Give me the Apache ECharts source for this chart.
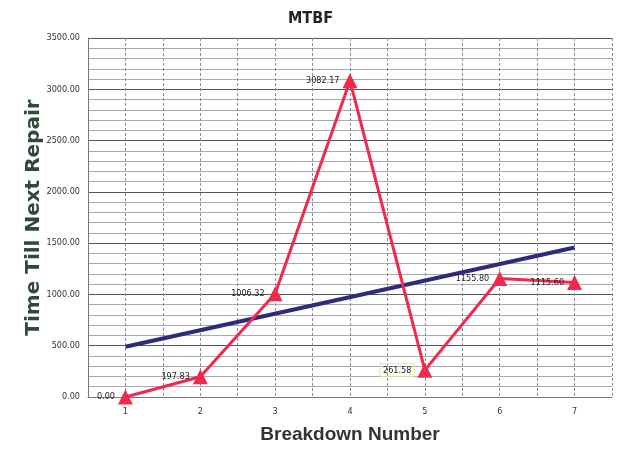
<!DOCTYPE html>
<html>
<head>
<meta charset="utf-8">
<script src="https://cdn.jsdelivr.net/npm/echarts@6/dist/echarts.min.js"></script>
<style>
  html, body { margin: 0; padding: 0; background: #fff; }
  #chart { width: 621px; height: 451px; }
</style>
</head>
<body>
<div id="chart"></div>
<script>
// breakdown numbers and time till next repair
var breakdowns = [1, 2, 3, 4, 5, 6, 7];
var mtbf = [0.00, 197.83, 1006.32, 3082.17, 261.58, 1155.80, 1115.60];
// linear trend line, end points
var trendX = [1, 7];
var trendY = [490, 1458];

var narrow = '"Liberation Sans Narrow", "Arial Narrow", "DejaVu Sans Condensed", sans-serif';

var chart = echarts.init(document.getElementById('chart'));

var points = breakdowns.map(function (b, i) {
  var item = { value: [b, mtbf[i]] };
  if (b === 5) {
    // this one has a faint yellow box round it
    item.label = { borderColor: '#e8e49a', borderWidth: 1, padding: [2, 3] };
  }
  return item;
});

chart.setOption({
  animation: false,
  backgroundColor: '#fff',
  title: {
    text: 'MTBF',
    left: 'center',
    top: 6,
    textStyle: { fontFamily: narrow, fontSize: 16, fontWeight: 'bold', color: '#222' }
  },
  grid: { left: 88, right: 9, top: 38, bottom: 54 },
  xAxis: {
    type: 'value',
    min: 0.5,
    max: 7.5,
    interval: 0.5,
    name: 'Breakdown Number',
    nameLocation: 'middle',
    nameGap: 28,
    nameTextStyle: { fontFamily: '"Liberation Sans", Arial, sans-serif', fontSize: 19, fontWeight: 'bold', color: '#333' },
    axisLine: { lineStyle: { color: '#777' } },
    axisTick: { show: false },
    axisLabel: {
      fontFamily: narrow, fontSize: 9, color: '#333', margin: 10,
      formatter: function (v) { return v % 1 === 0 ? String(v) : ''; }
    },
    splitLine: { show: true, lineStyle: { color: '#8a8a9a', type: [3, 2] } }
  },
  yAxis: {
    type: 'value',
    min: 0,
    max: 3500,
    interval: 500,
    name: 'Time Till Next Repair',
    nameLocation: 'middle',
    nameGap: 44,
    nameMoveOverlap: false,
    nameTextStyle: { fontFamily: '"DejaVu Sans", sans-serif', fontSize: 20, fontWeight: 'bold', color: '#2f4a38' },
    axisLine: { show: true, lineStyle: { color: '#777' } },
    axisTick: { show: false },
    axisLabel: {
      fontFamily: narrow, fontSize: 9, color: '#333', margin: 8,
      formatter: function (v) { return v.toFixed(2); }
    },
    splitLine: { lineStyle: { color: '#555', width: 1 } },
    minorTick: { show: false, splitNumber: 5 },
    minorSplitLine: { show: true, lineStyle: { color: '#aaa' } }
  },
  series: [
    {
      name: 'Trend',
      type: 'line',
      data: trendX.map(function (x, i) { return [x, trendY[i]]; }),
      symbol: 'none',
      lineStyle: { color: '#2e2b7e', width: 4 },
      z: 2
    },
    {
      name: 'MTBF',
      type: 'line',
      data: points,
      symbol: 'triangle',
      symbolSize: 15,
      itemStyle: { color: '#ef2a4c' },
      lineStyle: { color: '#ef2a4c', width: 3 },
      label: {
        show: true,
        position: 'left',
        distance: 3,
        fontFamily: narrow,
        fontSize: 9,
        color: '#222',
        formatter: function (p) { return p.value[1].toFixed(2); }
      },
      z: 3
    }
  ]
});
</script>
</body>
</html>
